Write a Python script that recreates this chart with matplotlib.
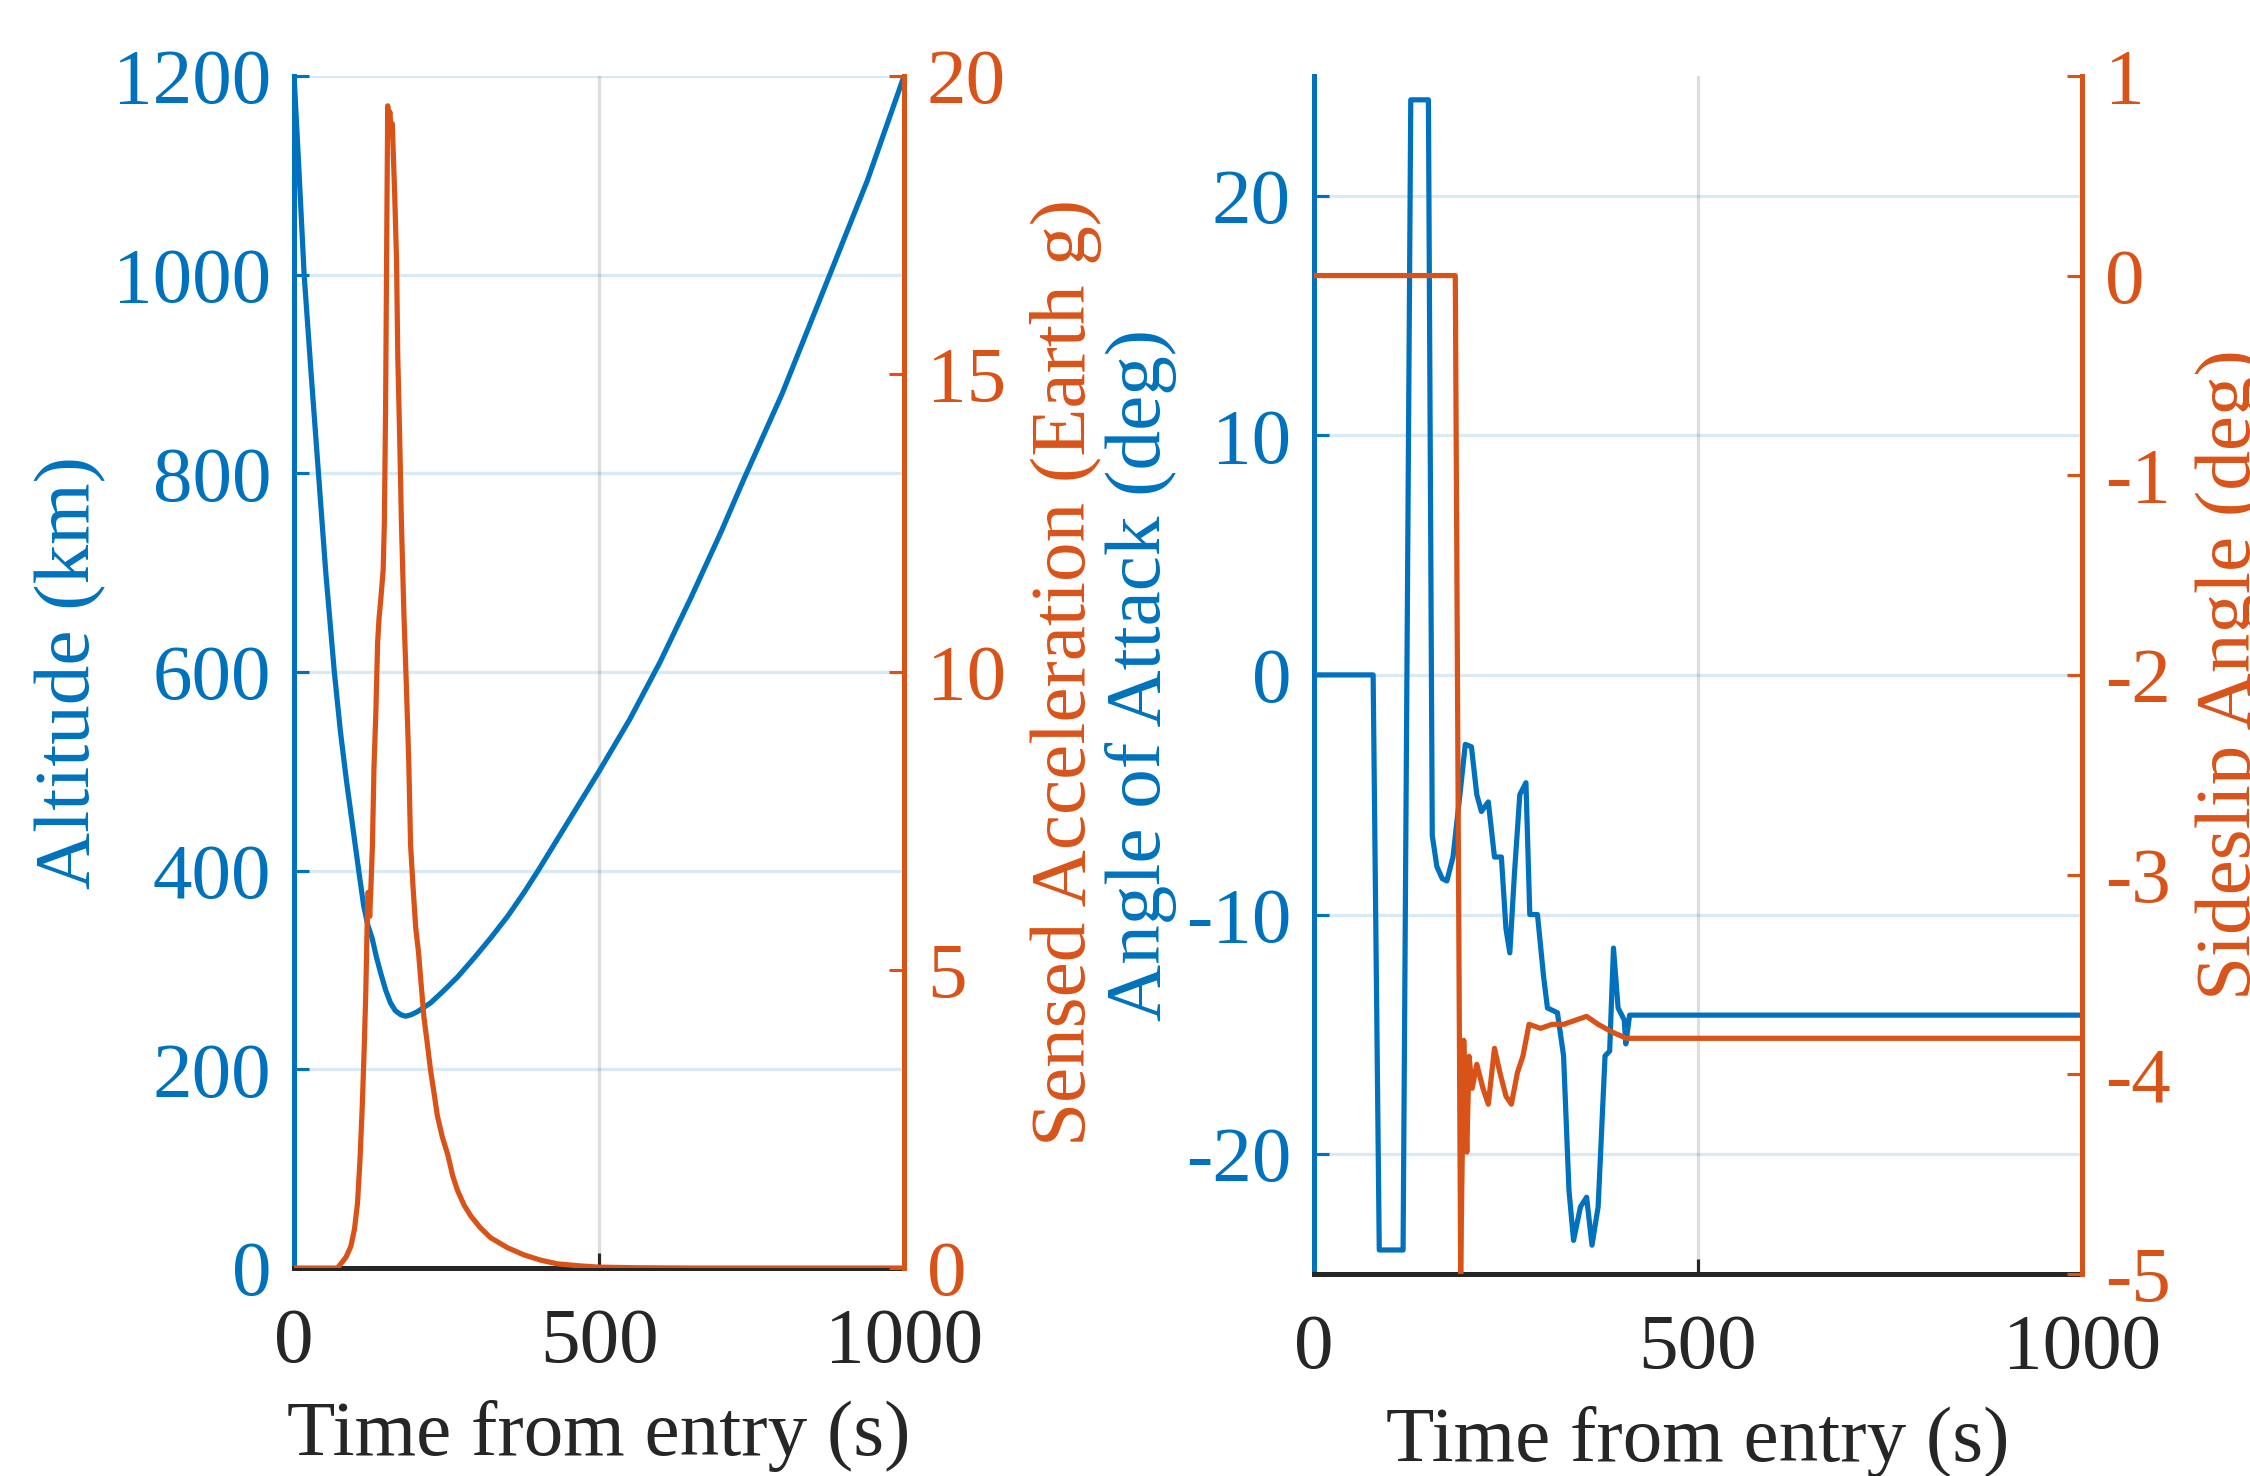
import numpy as np
import matplotlib
matplotlib.use("Agg")
import matplotlib.pyplot as plt

plt.rcParams["font.family"] = ["Liberation Serif", "DejaVu Serif"]
plt.rcParams["axes.unicode_minus"] = False

BLUE = "#0072BD"
ORANGE = "#D95319"
DARK = "#262626"

# left panel: altitude (km) and sensed acceleration (g)
alt_t = [0, 8, 16.5, 28, 40, 52, 66, 76, 86, 96, 106, 114, 121, 128, 135, 142,
         150, 158, 166, 175, 183, 192, 202, 224, 245, 268, 295, 322, 350, 377,
         400, 450, 500, 550, 600, 650, 700, 738, 800, 875, 940, 1000]
alt_km = [1200, 1105, 1000, 900, 800, 700, 600, 540, 490, 445, 400, 365, 345, 332,
          313, 297, 280, 267, 259, 255, 253.5, 255, 258, 267, 279, 293, 312, 332,
          354, 378, 400, 450, 500, 552, 610, 674, 741, 795, 880, 995, 1095, 1200]

acc_t = [0, 71, 76.5, 85, 93, 99, 104, 108, 112, 115, 117.5, 119.5, 121, 122, 124,
         126, 128.4, 131, 134, 137, 139.3, 142, 146, 148, 150, 152, 153.5, 155, 157,
         159, 161, 165, 168, 170, 173, 176, 180, 184, 188, 191, 195, 199.5, 204,
         208, 213, 218, 224, 230, 235, 243, 252, 260, 268, 279, 290, 305, 322, 350,
         377, 405, 432, 470, 500, 560, 650, 1000]
acc_g = [0, 0, 0.07, 0.18, 0.36, 0.65, 1.09, 1.8, 2.77, 3.7, 4.6, 5.6, 6.3, 6.3, 5.9,
         6.4, 7.07, 8.4, 9.3, 10.5, 10.9, 11.2, 11.7, 12.5, 14.4, 17.4, 19.5, 19.2,
         19.4, 19.1, 19.2, 18.0, 16.9, 15.3, 14.0, 12.5, 11.0, 9.8, 8.5, 7.1, 6.4,
         5.7, 5.3, 4.8, 4.2, 3.8, 3.3, 2.9, 2.55, 2.2, 1.9, 1.55, 1.3, 1.05, 0.87,
         0.68, 0.51, 0.34, 0.22, 0.13, 0.07, 0.035, 0.015, 0.005, 0, 0]

# right panel: angle of attack and sideslip (deg)
aoa_t = [0, 77, 85, 116, 126, 149, 154, 160, 167, 173, 181, 190, 197, 205, 212, 218,
         227, 235, 244, 250, 255, 261, 268, 276, 281, 291, 299, 304, 317, 325, 332,
         338, 347, 355, 362, 370, 379, 385, 390, 396, 404, 406, 411, 1000]
aoa_deg = [0, 0, -24, -24, 24, 24, -6.7, -8, -8.5, -8.6, -7.6, -5, -2.9, -3.0, -5,
           -5.7, -5.3, -7.6, -7.6, -10.6, -11.6, -8.3, -5, -4.5, -10, -10, -12.6,
           -13.9, -14.1, -15.9, -21.5, -23.6, -22.2, -21.8, -23.8, -22.2, -15.9,
           -15.7, -11.4, -13.9, -14.4, -15.4, -14.2, -14.2]

beta_t = [0, 184, 191, 195, 199, 202, 206, 212, 220, 227, 235, 242, 250, 257, 265,
          272, 280, 295, 310, 325, 340, 355, 370, 389, 407, 1000]
beta_deg = [0, 0, -5, -3.83, -4.39, -3.91, -4.07, -3.95, -4.07, -4.15, -3.87, -3.99,
            -4.11, -4.15, -3.99, -3.91, -3.75, -3.77, -3.75, -3.75, -3.73, -3.71,
            -3.75, -3.79, -3.82, -3.82]

xticks = [0, 500, 1000]
FS = 38
LW = 2.5


def style_pair(ax, ax2):
    for a in (ax, ax2):
        a.spines["top"].set_visible(False)
        a.tick_params(axis="both", direction="in", length=7, width=1.5,
                      labelsize=FS, pad=11)
    ax.spines["right"].set_visible(False)
    ax2.spines["left"].set_visible(False)
    ax2.spines["bottom"].set_visible(False)
    ax.spines["left"].set_color(BLUE)
    ax.spines["left"].set_linewidth(2.4)
    ax.spines["bottom"].set_color(DARK)
    ax.spines["bottom"].set_linewidth(2.4)
    ax2.spines["right"].set_color(ORANGE)
    ax2.spines["right"].set_linewidth(2.4)
    ax.tick_params(axis="y", colors=BLUE)
    ax2.tick_params(axis="y", colors=ORANGE)
    ax.tick_params(axis="x", colors=DARK, pad=19)
    ax.set_xlim(0, 1000)
    ax.set_xticks(xticks)
    ax.grid(axis="y", color=BLUE, alpha=0.15, linewidth=1.6)
    ax.grid(axis="x", color=DARK, alpha=0.15, linewidth=1.6)
    ax.set_xlabel("Time from entry (s)", fontsize=FS, color=DARK, labelpad=10)


fig = plt.figure(figsize=(15, 9.84), dpi=150)

ax1 = fig.add_axes([0.1307, 0.1409, 0.2711, 0.8076])
ax1b = ax1.twinx()
ax1.plot(alt_t, alt_km, color=BLUE, linewidth=LW)
ax1b.plot(acc_t, acc_g, color=ORANGE, linewidth=LW)
ax1.set_ylim(0, 1200)
ax1.set_yticks(np.arange(0, 1201, 200))
ax1b.set_ylim(0, 20)
ax1b.set_yticks([0, 5, 10, 15, 20])
style_pair(ax1, ax1b)
ax1.set_ylabel("Altitude (km)", fontsize=FS, color=BLUE)
ax1.yaxis.set_label_coords(-0.308, 0.5)
ax1b.set_ylabel("Sensed Acceleration (Earth g)", fontsize=FS, color=ORANGE)
ax1b.yaxis.set_label_coords(1.207, 0.5)

ax2 = fig.add_axes([0.584, 0.1369, 0.3413, 0.8117])
ax2b = ax2.twinx()
ax2.plot(aoa_t, aoa_deg, color=BLUE, linewidth=LW)
ax2b.plot(beta_t, beta_deg, color=ORANGE, linewidth=LW)
ax2.set_ylim(-25, 25)
ax2.set_yticks([-20, -10, 0, 10, 20])
ax2b.set_ylim(-5, 1)
ax2b.set_yticks([-5, -4, -3, -2, -1, 0, 1])
style_pair(ax2, ax2b)
ax2.set_ylabel("Angle of Attack (deg)", fontsize=FS, color=BLUE)
ax2.yaxis.set_label_coords(-0.178, 0.5)
ax2b.set_ylabel("Sideslip Angle (deg)", fontsize=FS, color=ORANGE)
ax2b.yaxis.set_label_coords(1.148, 0.5)

fig.savefig("out.png", dpi=150)
